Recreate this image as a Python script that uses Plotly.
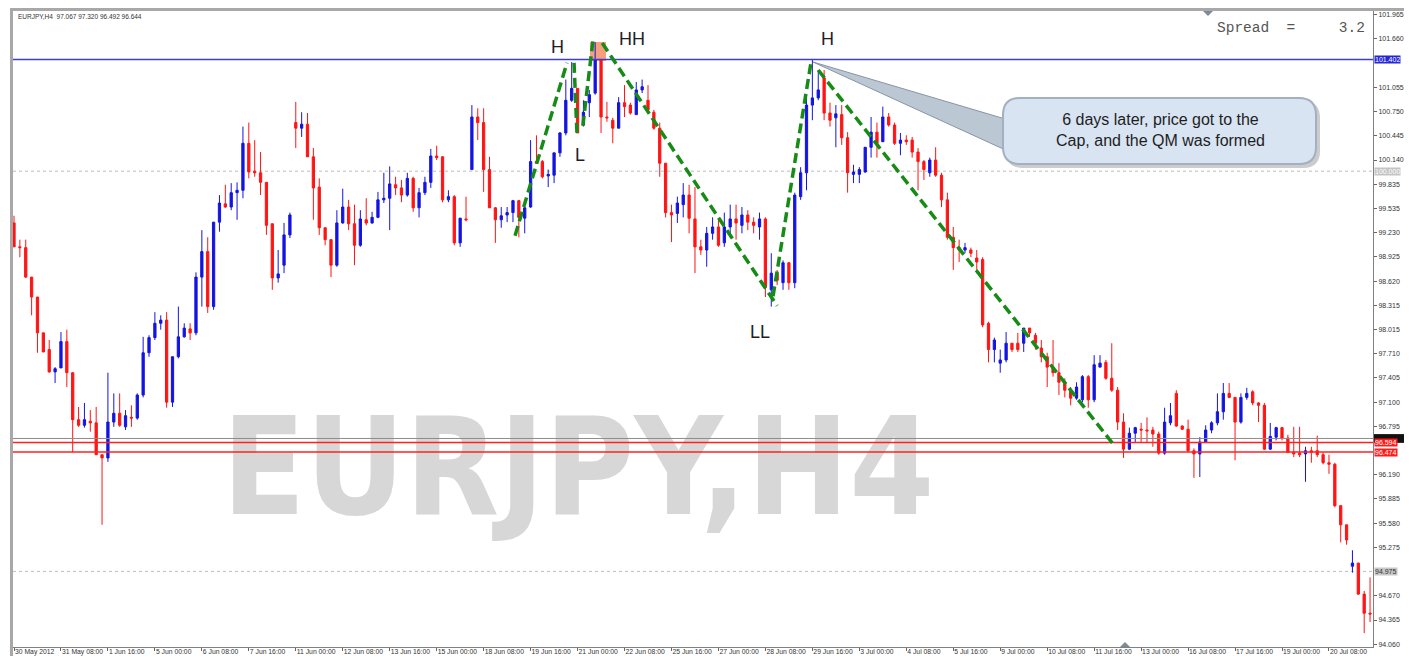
import plotly.graph_objects as go

# ---------------- DATA (EURJPY, H4 candles) ----------------
opens = [99.35, 99.05, 99.04, 98.67, 98.42, 97.97, 97.76, 97.48, 97.53, 97.86,
         97.47, 96.88, 96.81, 96.86, 96.84, 96.44, 96.40, 96.85, 96.96, 96.79,
         96.91, 96.90, 97.19, 97.72, 97.91, 98.09, 98.13, 97.10, 97.67, 97.92,
         98.02, 97.97, 98.67, 98.99, 98.30, 99.36, 99.59, 99.55, 99.73, 99.76,
         100.35, 100.00, 99.98, 99.86, 99.34, 98.66, 98.82, 99.20, 100.61, 100.54,
         100.59, 100.18, 99.80, 99.29, 99.14, 98.82, 99.35, 99.55, 99.34, 99.07,
         99.39, 99.35, 99.42, 99.64, 99.66, 99.83, 99.79, 99.70, 99.91, 99.54,
         99.73, 99.86, 100.19, 100.18, 99.64, 99.68, 99.10, 99.40, 100.02, 100.68,
         100.61, 100.02, 99.54, 99.39, 99.45, 99.48, 99.63, 99.41, 99.55, 100.12,
         100.12, 99.94, 99.95, 100.23, 100.48, 100.89, 101.04, 100.58, 100.86, 100.98,
         101.40, 100.68, 100.64, 100.54, 100.86, 100.83, 100.71, 101.02, 100.89, 100.74,
         100.54, 100.10, 99.48, 99.47, 99.58, 99.70, 99.40, 99.05, 99.01, 99.22,
         99.30, 99.10, 99.30, 99.40, 99.32, 99.45, 99.36, 99.30, 99.40, 98.51,
         98.72, 98.60, 98.85, 98.60, 99.68, 99.98, 100.83, 100.92, 101.17, 100.73,
         100.67, 100.71, 100.42, 99.96, 99.96, 99.99, 100.30, 100.49, 100.37, 100.68,
         100.58, 100.35, 100.39, 100.39, 100.24, 100.12, 99.98, 100.14, 99.95, 99.64,
         99.17, 99.04, 99.01, 99.01, 98.91, 98.89, 98.09, 97.76, 97.59, 97.63,
         97.84, 97.84, 97.84, 98.03, 97.94, 97.78, 97.67, 97.54, 97.47, 97.35,
         97.25, 97.15, 97.13, 97.42, 97.13, 97.54, 97.60, 97.40, 97.25, 96.85,
         96.51, 96.71, 96.76, 96.75, 96.75, 96.70, 96.46, 96.84, 97.21, 96.80,
         96.76, 96.49, 96.45, 96.60, 96.75, 96.84, 96.98, 97.21, 97.16, 96.85,
         97.16, 97.23, 97.09, 97.06, 96.51, 96.66, 96.78, 96.65, 96.47, 96.46,
         96.45, 96.49, 96.49, 96.44, 96.34, 96.32, 95.80, 95.56, 95.04, 95.08,
         94.69, 94.45]
highs = [99.44, 99.14, 99.14, 98.67, 98.42, 97.97, 97.88, 97.54, 97.98, 98.01,
         97.47, 97.04, 97.09, 97.00, 97.04, 96.44, 97.47, 97.21, 97.21, 97.00,
         97.06, 97.21, 97.92, 97.94, 98.23, 98.19, 98.23, 97.67, 98.30, 98.09,
         98.09, 98.73, 99.26, 99.17, 99.36, 99.70, 99.83, 99.85, 99.86, 100.56,
         100.61, 100.39, 100.24, 99.86, 99.34, 99.01, 99.35, 99.48, 100.87, 100.74,
         100.73, 100.29, 99.91, 99.29, 99.14, 99.51, 99.78, 99.64, 99.58, 99.51,
         99.66, 99.49, 99.74, 99.98, 100.06, 99.93, 99.89, 99.98, 99.93, 99.79,
         99.93, 100.28, 100.32, 100.19, 99.76, 99.70, 99.41, 99.68, 100.83, 100.79,
         100.79, 100.18, 99.55, 99.55, 99.55, 99.64, 99.64, 99.58, 100.39, 100.45,
         100.14, 100.02, 100.23, 100.49, 101.15, 101.37, 101.04, 100.89, 101.02, 101.62,
         101.40, 100.87, 100.67, 100.93, 101.08, 100.86, 101.12, 101.15, 101.08, 100.77,
         100.61, 100.10, 99.58, 99.68, 99.85, 99.83, 99.80, 99.14, 99.30, 99.42,
         99.39, 99.48, 99.58, 99.58, 99.55, 99.51, 99.42, 99.48, 99.42, 98.97,
         98.76, 98.88, 98.86, 99.73, 100.05, 100.93, 101.40, 101.27, 101.27, 100.86,
         100.83, 100.83, 100.49, 100.08, 100.05, 100.30, 100.68, 100.61, 100.81, 100.73,
         100.61, 100.48, 100.45, 100.43, 100.29, 100.14, 100.17, 100.30, 99.98, 99.73,
         99.30, 99.14, 99.10, 99.04, 99.01, 98.92, 98.11, 97.91, 97.76, 97.98,
         97.84, 97.97, 98.03, 98.03, 97.97, 97.88, 97.72, 97.88, 97.59, 97.40,
         97.29, 97.35, 97.44, 97.44, 97.69, 97.69, 97.63, 97.84, 97.29, 96.96,
         96.78, 96.79, 96.84, 96.91, 96.79, 96.73, 97.03, 97.09, 97.25, 96.81,
         96.88, 96.52, 96.66, 96.81, 96.86, 97.21, 97.34, 97.34, 97.16, 97.21,
         97.28, 97.25, 97.10, 97.09, 96.84, 96.79, 96.79, 96.69, 96.79, 96.79,
         96.54, 96.54, 96.68, 96.47, 96.44, 96.34, 95.81, 95.56, 95.24, 95.08,
         94.73, 94.90]
lows = [99.05, 98.92, 98.66, 98.19, 97.72, 97.73, 97.47, 97.34, 97.53, 97.29,
        96.47, 96.79, 96.78, 96.73, 96.44, 95.56, 96.35, 96.79, 96.79, 96.75,
        96.79, 96.88, 97.16, 97.67, 97.88, 98.01, 97.03, 97.04, 97.65, 97.91,
        97.88, 97.94, 98.30, 98.22, 98.26, 99.24, 99.54, 99.51, 99.39, 99.66,
        99.91, 99.93, 99.70, 99.20, 98.51, 98.60, 98.72, 99.16, 100.29, 100.43,
        100.18, 99.39, 99.20, 99.07, 98.67, 98.80, 99.34, 99.26, 98.82, 99.05,
        99.32, 99.34, 99.41, 99.60, 99.26, 99.70, 99.61, 99.68, 99.49, 99.42,
        99.70, 99.79, 100.14, 99.61, 99.61, 99.07, 99.05, 99.37, 100.02, 100.39,
        99.74, 99.54, 99.10, 99.29, 99.36, 99.36, 99.17, 99.22, 99.54, 100.10,
        99.91, 99.80, 99.85, 100.18, 100.45, 100.87, 100.48, 100.56, 100.68, 100.96,
        100.48, 100.62, 100.35, 100.54, 100.68, 100.71, 100.71, 100.98, 100.74, 100.52,
        99.93, 99.42, 99.11, 99.35, 99.42, 99.22, 98.72, 98.95, 98.80, 99.14,
        99.05, 99.05, 99.17, 99.14, 99.22, 99.26, 99.22, 99.14, 98.42, 98.30,
        98.57, 98.51, 98.51, 98.53, 99.64, 99.76, 100.64, 100.89, 100.64, 100.56,
        100.30, 100.33, 99.73, 99.85, 99.85, 99.98, 100.17, 100.17, 100.37, 100.56,
        100.33, 100.20, 100.33, 100.17, 99.76, 99.89, 99.93, 99.93, 99.55, 99.14,
        98.76, 98.86, 98.97, 98.92, 98.72, 98.04, 97.60, 97.60, 97.47, 97.60,
        97.73, 97.73, 97.73, 97.92, 97.76, 97.60, 97.29, 97.42, 97.19, 97.16,
        97.06, 97.13, 97.10, 97.03, 97.10, 97.54, 97.38, 97.23, 96.75, 96.40,
        96.50, 96.60, 96.60, 96.59, 96.54, 96.44, 96.44, 96.81, 96.79, 96.75,
        96.47, 96.15, 96.16, 96.59, 96.71, 96.81, 96.88, 97.15, 96.37, 96.83,
        97.13, 97.06, 96.85, 96.50, 96.50, 96.62, 96.62, 96.46, 96.41, 96.41,
        96.10, 96.34, 96.41, 96.32, 96.20, 95.78, 95.34, 95.31, 94.96, 94.68,
        94.20, 94.34]
closes = [99.05, 99.04, 98.67, 98.42, 97.97, 97.73, 97.48, 97.52, 97.86, 97.47,
          96.88, 96.81, 96.88, 96.84, 96.44, 96.40, 96.85, 96.96, 96.81, 96.93,
          96.90, 97.19, 97.72, 97.91, 98.09, 98.13, 97.10, 97.67, 97.92, 98.03,
          97.97, 98.67, 98.99, 98.30, 99.36, 99.60, 99.55, 99.73, 99.76, 100.35,
          99.99, 99.98, 99.86, 99.32, 98.66, 98.71, 99.20, 99.45, 100.54, 100.59,
          100.18, 99.79, 99.29, 99.14, 98.82, 99.35, 99.55, 99.34, 99.07, 99.40,
          99.35, 99.42, 99.64, 99.66, 99.84, 99.79, 99.70, 99.91, 99.54, 99.73,
          99.86, 100.19, 100.17, 99.64, 99.68, 99.10, 99.41, 99.39, 100.68, 100.61,
          100.02, 99.54, 99.39, 99.44, 99.48, 99.63, 99.42, 99.54, 100.12, 100.10,
          99.93, 99.96, 100.23, 100.48, 100.89, 101.04, 100.48, 100.74, 100.96, 101.40,
          100.68, 100.67, 100.54, 100.86, 100.81, 100.73, 101.02, 101.06, 100.77, 100.54,
          100.10, 99.48, 99.45, 99.60, 99.70, 99.41, 99.05, 99.01, 99.22, 99.30,
          99.07, 99.30, 99.40, 99.35, 99.45, 99.36, 99.32, 99.40, 98.55, 98.72,
          98.63, 98.85, 98.60, 99.70, 99.98, 100.83, 100.92, 101.02, 100.73, 100.64,
          100.72, 100.42, 99.98, 99.99, 100.02, 100.30, 100.49, 100.35, 100.68, 100.58,
          100.35, 100.39, 100.37, 100.24, 100.12, 100.02, 100.14, 99.95, 99.64, 99.17,
          99.04, 99.01, 99.04, 98.97, 98.86, 98.07, 97.76, 97.88, 97.63, 97.84,
          97.76, 97.76, 98.03, 97.97, 97.84, 97.67, 97.54, 97.47, 97.35, 97.25,
          97.15, 97.29, 97.42, 97.13, 97.57, 97.59, 97.40, 97.25, 96.85, 96.51,
          96.71, 96.78, 96.75, 96.74, 96.70, 96.46, 96.85, 96.93, 96.80, 96.76,
          96.49, 96.45, 96.60, 96.75, 96.84, 96.98, 97.21, 97.16, 96.85, 97.16,
          97.21, 97.09, 97.06, 96.51, 96.67, 96.78, 96.65, 96.47, 96.45, 96.44,
          96.49, 96.47, 96.44, 96.34, 96.32, 95.80, 95.56, 95.37, 95.08, 94.69,
          94.45, 94.44]

time_labels = ["30 May 2012", "31 May 08:00", "1 Jun 16:00", "5 Jun 00:00", "6 Jun 08:00",
               "7 Jun 16:00", "11 Jun 00:00", "12 Jun 08:00", "13 Jun 16:00", "15 Jun 00:00",
               "18 Jun 08:00", "19 Jun 16:00", "21 Jun 00:00", "22 Jun 08:00", "25 Jun 16:00",
               "27 Jun 00:00", "28 Jun 08:00", "29 Jun 16:00", "3 Jul 00:00", "4 Jul 08:00",
               "5 Jul 16:00", "9 Jul 00:00", "10 Jul 08:00", "11 Jul 16:00", "13 Jul 00:00",
               "16 Jul 08:00", "17 Jul 16:00", "19 Jul 00:00", "20 Jul 08:00"]
bars_per_label = 8

price_labels = ["101.965", "101.660", "101.055", "100.750", "100.445", "100.140",
                "99.835", "99.535", "99.230", "98.925", "98.620", "98.315", "98.015",
                "97.710", "97.405", "97.100", "96.795", "96.190", "95.885",
                "95.580", "95.275", "94.670", "94.365", "94.060"]

cap_level = 101.402          # blue "cap" line
red_levels = [96.594, 96.474]
bid_level = 96.644
dotted_levels = [100.000, 94.975]
header_text = "EURJPY,H4  97.067 97.320 96.492 96.644"
spread_text = "Spread  =     3.2"
callout_text = "6 days later, price got to the<br>Cap, and the QM was formed"
# zig-zag trend lines: (bar index, price) pairs
zigzag = [((85.35, 99.19), (94.2, 101.36)),
          ((95.4, 101.36), (95.9, 100.47)),
          ((96.9, 100.57), (98.6, 101.63)),
          ((100.2, 101.61), (130.0, 98.31)),
          ((129.3, 98.43), (135.8, 101.38)),
          ((137.0, 101.27), (187.6, 96.54))]

# ---------------- LAYOUT GEOMETRY ----------------
# the page body has an 8px default margin, so the figure sits at (8, 8) in the window
OFF = 8
W, H = 1412 - OFF, 656 - OFF
ML, MR, MT, MB = 13 - OFF, 39, 11 - OFF, 9
PW, PH = W - ML - MR, H - MT - MB


def fx(px):            # window pixel -> paper x
    return (px - OFF - ML) / PW


def fy(py):            # window pixel -> paper y
    return (H - MB - (py - OFF)) / PH


def poly(points):
    return "M " + " L ".join(f"{fx(a):.5f},{fy(b):.5f}" for a, b in points) + " Z"


def rounded(x0, y0, x1, y1, r):
    p = lambda a, b: f"{fx(a):.5f},{fy(b):.5f}"
    return (f"M {p(x0 + r, y0)} L {p(x1 - r, y0)} Q {p(x1, y0)} {p(x1, y0 + r)} "
            f"L {p(x1, y1 - r)} Q {p(x1, y1)} {p(x1 - r, y1)} L {p(x0 + r, y1)} "
            f"Q {p(x0, y1)} {p(x0, y1 - r)} L {p(x0, y0 + r)} Q {p(x0, y0)} {p(x0 + r, y0)} Z")


n = len(opens)
idx = list(range(n))

fig = go.Figure()

# watermark (behind the candles)
fig.add_trace(go.Scatter(
    x=[96.1], y=[96.12], mode="text", text=["EURJPY,H4"],
    textfont=dict(family="Liberation Sans Narrow, DejaVu Sans Condensed, Arial Narrow, sans-serif",
                  size=136, color="#d7d7d7", weight="bold"),
    hoverinfo="skip", showlegend=False, cliponaxis=False))

fig.add_trace(go.Candlestick(
    x=idx, open=opens, high=highs, low=lows, close=closes,
    increasing=dict(line=dict(color="#1414e0", width=1), fillcolor="#1414e0"),
    decreasing=dict(line=dict(color="#ff1414", width=1), fillcolor="#ff1414"),
    whiskerwidth=0, hoverinfo="skip", showlegend=False))

shapes = []
# HH highlight box
shapes.append(dict(type="rect", xref="paper", yref="paper", x0=fx(590), x1=fx(606),
                   y0=fy(61), y1=fy(42), fillcolor="rgba(245,150,112,0.9)",
                   line=dict(width=0), layer="below"))
for lv in dotted_levels:
    shapes.append(dict(type="line", xref="paper", yref="y", x0=0, x1=1, y0=lv, y1=lv,
                       line=dict(color="#bdbdbd", width=1, dash="dot"), layer="below"))
shapes.append(dict(type="line", xref="paper", yref="y", x0=0, x1=1, y0=bid_level, y1=bid_level,
                   line=dict(color="#8c8c8c", width=1), layer="above"))
for lv in red_levels:
    shapes.append(dict(type="line", xref="paper", yref="y", x0=0, x1=1, y0=lv, y1=lv,
                       line=dict(color="#ff2020", width=1.6), layer="above"))
shapes.append(dict(type="line", xref="paper", yref="y", x0=0, x1=1, y0=cap_level, y1=cap_level,
                   line=dict(color="#3c3cdc", width=1.6), layer="above"))
for (a, b) in zigzag:
    shapes.append(dict(type="line", xref="x", yref="y", x0=a[0], y0=a[1], x1=b[0], y1=b[1],
                       line=dict(color="#168c16", width=3.5, dash="10px,5px"), layer="above"))
# callout: pointer, shadow, box
shapes.append(dict(type="path", xref="paper", yref="paper",
                   path=poly([(813, 62), (1012, 121), (1012, 153)]),
                   fillcolor="#bcc7d4", line=dict(color="#8895a6", width=1), layer="above"))
shapes.append(dict(type="path", xref="paper", yref="paper",
                   path=rounded(1006, 101, 1320, 168, 17),
                   fillcolor="rgba(110,110,110,0.35)", line=dict(width=0), layer="above"))
shapes.append(dict(type="path", xref="paper", yref="paper",
                   path=rounded(1003, 98, 1316, 164, 17),
                   fillcolor="#d9e4f3", line=dict(color="#a2b0c2", width=2), layer="above"))
# black bid-price marker on the axis (hidden behind the red one in the reference)
shapes.append(dict(type="rect", xref="paper", yref="y", x0=fx(1374), x1=fx(1405),
                   y0=bid_level - 0.055, y1=bid_level + 0.055, fillcolor="#111111",
                   line=dict(width=0), layer="above"))
# window frame
shapes.append(dict(type="line", xref="paper", yref="paper", x0=fx(10), x1=fx(1412),
                   y0=fy(9.5), y1=fy(9.5), line=dict(color="#a8a8a8", width=3), layer="above"))
shapes.append(dict(type="line", xref="paper", yref="paper", x0=fx(11.5), x1=fx(11.5),
                   y0=fy(9), y1=fy(656), line=dict(color="#a8a8a8", width=3), layer="above"))
# small shift markers
shapes.append(dict(type="path", xref="paper", yref="paper",
                   path=poly([(1203, 11), (1213, 11), (1208, 16)]),
                   fillcolor="#7d8b99", line=dict(width=0), layer="above"))
shapes.append(dict(type="path", xref="paper", yref="paper",
                   path=poly([(1120, 647), (1130, 647), (1125, 642)]),
                   fillcolor="#7d8b99", line=dict(width=0), layer="above"))

ann = []
label_font = dict(family="Liberation Sans, Arial, sans-serif", size=18, color="#1e1e1e")
for txt, px, py in [("H", 557, 47), ("HH", 632, 39), ("H", 827, 39), ("L", 580, 155), ("LL", 760, 332)]:
    ann.append(dict(text=txt, xref="paper", yref="paper", x=fx(px), y=fy(py),
                    showarrow=False, font=label_font, xanchor="center", yanchor="middle"))
ann.append(dict(text=callout_text, xref="paper", yref="paper", x=fx(1160), y=fy(130),
                showarrow=False, xanchor="center", yanchor="middle",
                font=dict(family="Liberation Sans, Arial, sans-serif", size=16, color="#1e1e1e")))
ann.append(dict(text=spread_text.replace(" ", "\u00a0"), xref="paper", yref="paper",
                x=fx(1215), y=fy(28), showarrow=False, xanchor="left", yanchor="middle",
                font=dict(family="Liberation Mono, Courier New, monospace", size=14.5, color="#555555")))
ann.append(dict(text=header_text.replace(" ", "\u00a0"), xref="paper", yref="paper",
                x=fx(16), y=fy(17), showarrow=False, xanchor="left", yanchor="middle",
                font=dict(family="Liberation Sans, Arial, sans-serif", size=6.5, color="#333333")))
# price boxes on the axis
for val, bg, fg in [(cap_level, "#2626d4", "white"), (100.000, "#c4c4c4", "white"),
                    (red_levels[0], "#ff1a1a", "white"),
                    (red_levels[1], "#ff1a1a", "white"), (94.975, "#c8c8c8", "#333333")]:
    ann.append(dict(text=f"{val:.3f}", xref="paper", yref="y", x=fx(1374), y=val,
                    showarrow=False, xanchor="left", yanchor="middle", bgcolor=bg,
                    borderpad=0, font=dict(family="Liberation Sans, Arial, sans-serif", size=7, color=fg)))

fig.update_layout(
    width=W, height=H, margin=dict(l=ML, r=MR, t=MT, b=MB, autoexpand=False),
    paper_bgcolor="white", plot_bgcolor="white", showlegend=False, hovermode=False,
    boxgap=0.45, shapes=shapes, annotations=ann,
    xaxis=dict(range=[-0.17, 231.5], tickmode="array",
               tickvals=[k * bars_per_label for k in range(len(time_labels))], ticktext=time_labels,
               tickangle=0, ticks="outside", ticklen=3, tickcolor="#666666",
               ticklabelposition="outside right", ticklabelstandoff=-2,
               tickfont=dict(family="Liberation Sans, Arial, sans-serif", size=6.8, color="#333333"),
               showline=True, linecolor="#808080", linewidth=1, showgrid=False, zeroline=False,
               rangeslider=dict(visible=False), fixedrange=True, automargin=False),
    yaxis=dict(side="right", range=[94.026, 102.011], tickmode="array",
               tickvals=[float(s) for s in price_labels], ticktext=price_labels,
               ticks="outside", ticklen=3, tickcolor="#666666",
               tickfont=dict(family="Liberation Sans, Arial, sans-serif", size=7, color="#333333"),
               showline=True, linecolor="#808080", linewidth=1, showgrid=False, zeroline=False,
               fixedrange=True, automargin=False),
)

fig.write_html("out.html")
